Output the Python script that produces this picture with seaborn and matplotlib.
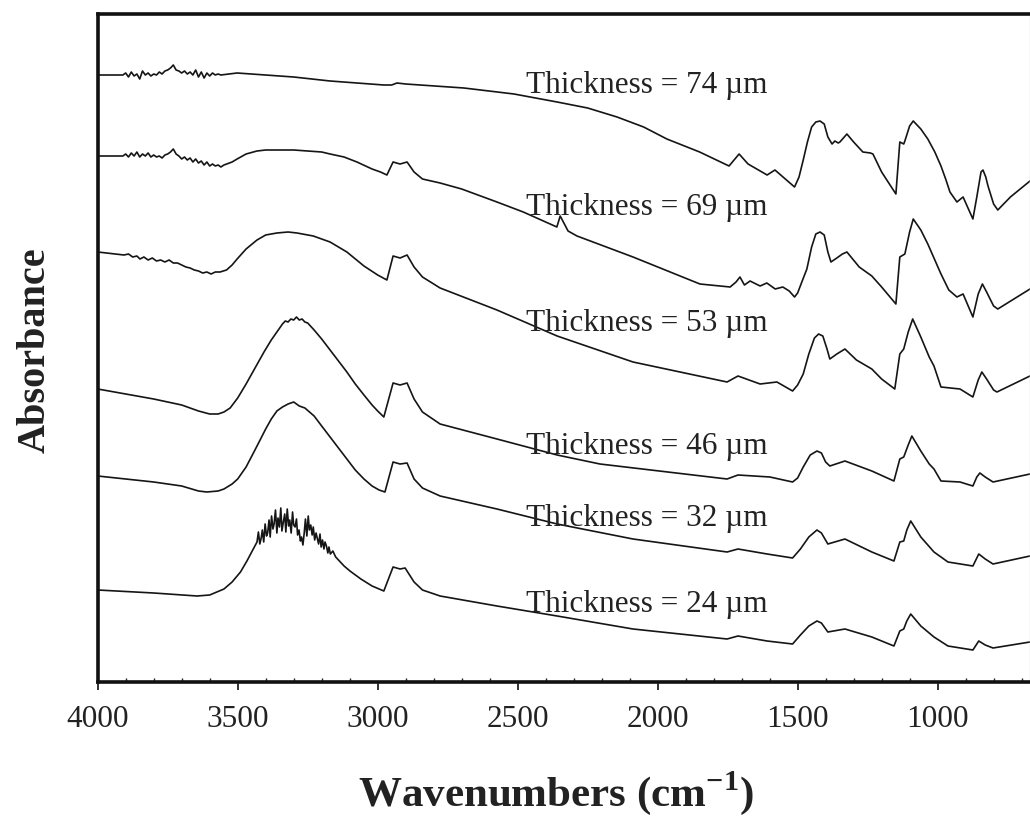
import numpy as np
import pandas as pd
import matplotlib
matplotlib.use("Agg")
import matplotlib.pyplot as plt
import seaborn as sns

# ---- data (wavenumber in cm^-1, absorbance in arbitrary offset units) ----
wn_74 = [4000, 3910, 3900, 3890, 3880, 3870, 3860, 3850, 3840, 3830, 3820, 3810, 3800,
         3790, 3780, 3770, 3760, 3750, 3740, 3730, 3720, 3710, 3700, 3690, 3680, 3670,
         3660, 3650, 3640, 3630, 3620, 3610, 3600, 3590, 3580, 3570, 3560, 3502, 3300,
         3170, 2978, 2950, 2931, 2900, 2692, 2513, 2359, 2250, 2145, 2050, 1967, 1850,
         1745, 1709, 1677, 1609, 1581, 1511, 1495, 1480, 1465, 1450, 1435, 1420, 1405,
         1392, 1377, 1367, 1355, 1349, 1324, 1300, 1267, 1240, 1231, 1200, 1149, 1135,
         1121, 1117, 1100, 1087, 1060, 1035, 1010, 988, 970, 956, 931, 909, 874, 860,
         845, 838, 828, 820, 800, 785, 740, 670]
ab_74 = [6.07, 6.07, 6.09, 6.05, 6.10, 6.06, 6.08, 6.03, 6.11, 6.07, 6.09, 6.06, 6.08,
         6.07, 6.10, 6.08, 6.11, 6.12, 6.14, 6.17, 6.12, 6.11, 6.09, 6.11, 6.08, 6.10,
         6.07, 6.12, 6.05, 6.10, 6.04, 6.09, 6.06, 6.09, 6.07, 6.08, 6.07, 6.09, 6.05,
         6.01, 5.97, 5.97, 5.99, 5.98, 5.94, 5.88, 5.80, 5.74, 5.65, 5.55, 5.43, 5.30,
         5.16, 5.28, 5.18, 5.07, 5.12, 4.95, 5.05, 5.22, 5.40, 5.55, 5.60, 5.61, 5.58,
         5.45, 5.38, 5.41, 5.39, 5.40, 5.48, 5.40, 5.30, 5.29, 5.28, 5.10, 4.88, 5.40,
         5.38, 5.41, 5.56, 5.61, 5.53, 5.43, 5.30, 5.16, 5.02, 4.90, 4.80, 4.85, 4.63,
         4.85, 5.10, 5.12, 5.05, 4.96, 4.78, 4.72, 4.85, 5.01]

wn_69 = [4000, 3910, 3900, 3890, 3880, 3870, 3860, 3850, 3840, 3830, 3820, 3810, 3800,
         3790, 3780, 3770, 3760, 3750, 3740, 3730, 3720, 3710, 3700, 3690, 3680, 3670,
         3660, 3650, 3640, 3630, 3620, 3610, 3600, 3590, 3580, 3570, 3560, 3549, 3520,
         3502, 3470, 3431, 3400, 3360, 3300, 3250, 3200, 3170, 3120, 3074, 3020, 2990,
         2967, 2945, 2920, 2895, 2870, 2840, 2777, 2700, 2574, 2480, 2384, 2360, 2348,
         2320, 2288, 2088, 1849, 1741, 1720, 1706, 1690, 1670, 1634, 1610, 1580, 1553,
         1530, 1511, 1500, 1485, 1467, 1450, 1435, 1420, 1405, 1392, 1381, 1360, 1340,
         1324, 1280, 1235, 1200, 1149, 1135, 1117, 1100, 1087, 1060, 1035, 988, 960,
         931, 909, 874, 855, 840, 825, 800, 785, 670]
ab_69 = [5.26, 5.26, 5.28, 5.25, 5.29, 5.26, 5.30, 5.25, 5.28, 5.26, 5.29, 5.25, 5.27,
         5.25, 5.26, 5.24, 5.27, 5.28, 5.30, 5.33, 5.28, 5.26, 5.23, 5.25, 5.22, 5.24,
         5.20, 5.23, 5.19, 5.21, 5.17, 5.20, 5.16, 5.18, 5.16, 5.17, 5.15, 5.17, 5.20,
         5.23, 5.28, 5.31, 5.32, 5.32, 5.32, 5.31, 5.30, 5.28, 5.25, 5.20, 5.13, 5.10,
         5.07, 5.20, 5.18, 5.20, 5.10, 5.03, 4.99, 4.93, 4.80, 4.70, 4.58, 4.55, 4.66,
         4.51, 4.46, 4.25, 3.98, 3.95, 4.00, 4.05, 3.97, 4.01, 3.96, 3.99, 3.93, 3.95,
         3.91, 3.85, 3.89, 4.00, 4.13, 4.35, 4.48, 4.50, 4.47, 4.30, 4.20, 4.24, 4.28,
         4.30, 4.15, 4.06, 3.95, 3.78, 4.25, 4.28, 4.50, 4.63, 4.52, 4.38, 4.08, 3.92,
         3.85, 3.88, 3.65, 3.88, 3.98, 3.90, 3.76, 3.73, 3.93]

wn_53 = [4000, 3906, 3890, 3875, 3860, 3849, 3835, 3820, 3805, 3790, 3775, 3760, 3745,
         3730, 3715, 3700, 3685, 3670, 3655, 3640, 3625, 3610, 3595, 3580, 3563, 3540,
         3520, 3502, 3470, 3431, 3400, 3360, 3320, 3288, 3230, 3170, 3110, 3049, 3000,
         2967, 2945, 2920, 2895, 2870, 2840, 2777, 2574, 2359, 2088, 1752, 1713, 1634,
         1574, 1518, 1500, 1480, 1460, 1440, 1425, 1410, 1395, 1385, 1360, 1331, 1290,
         1235, 1200, 1153, 1135, 1121, 1105, 1089, 1060, 1030, 1013, 988, 920, 874, 855,
         842, 825, 800, 788, 670]
ab_53 = [4.30, 4.27, 4.28, 4.25, 4.26, 4.23, 4.25, 4.22, 4.24, 4.21, 4.22, 4.20, 4.22,
         4.19, 4.19, 4.17, 4.15, 4.14, 4.12, 4.11, 4.09, 4.10, 4.08, 4.10, 4.10, 4.12,
         4.17, 4.23, 4.33, 4.42, 4.47, 4.49, 4.50, 4.49, 4.46, 4.40, 4.30, 4.16, 4.07,
         4.02, 4.26, 4.24, 4.27, 4.15, 4.05, 3.94, 3.72, 3.46, 3.20, 3.00, 3.06, 2.98,
         3.00, 2.91, 2.97, 3.08, 3.28, 3.44, 3.48, 3.46, 3.33, 3.23, 3.28, 3.33, 3.22,
         3.13, 3.03, 2.93, 3.28, 3.33, 3.50, 3.63, 3.45, 3.25, 3.16, 2.95, 2.93, 2.85,
         3.02, 3.10, 3.03, 2.92, 2.90, 3.06]

wn_46 = [4000, 3800, 3700, 3640, 3600, 3570, 3549, 3527, 3500, 3470, 3440, 3406, 3380,
         3360, 3340, 3330, 3320, 3310, 3300, 3290, 3280, 3270, 3260, 3250, 3227, 3200,
         3170, 3140, 3110, 3080, 3049, 3020, 3000, 2978, 2945, 2920, 2895, 2870, 2840,
         2777, 2574, 2359, 2206, 1752, 1713, 1599, 1518, 1500, 1480, 1455, 1431, 1415,
         1400, 1385, 1331, 1235, 1156, 1135, 1121, 1105, 1092, 1060, 1030, 1013, 988,
         920, 874, 860, 849, 830, 802, 670]
ab_46 = [2.93, 2.83, 2.77, 2.71, 2.68, 2.68, 2.70, 2.74, 2.84, 2.98, 3.13, 3.30, 3.42,
         3.50, 3.58, 3.61, 3.60, 3.63, 3.62, 3.65, 3.62, 3.63, 3.60, 3.59, 3.52, 3.43,
         3.32, 3.21, 3.10, 2.98, 2.87, 2.77, 2.71, 2.65, 2.99, 2.97, 2.99, 2.83, 2.70,
         2.58, 2.43, 2.27, 2.18, 2.03, 2.07, 2.05, 2.00, 2.04, 2.15, 2.27, 2.31, 2.29,
         2.20, 2.16, 2.21, 2.11, 2.01, 2.23, 2.25, 2.37, 2.46, 2.31, 2.18, 2.13, 2.01,
         2.00, 1.96, 2.05, 2.09, 2.05, 2.00, 2.08]

wn_32 = [4000, 3800, 3700, 3640, 3610, 3570, 3549, 3520, 3500, 3470, 3442, 3420, 3400,
         3380, 3360, 3340, 3320, 3300, 3280, 3260, 3227, 3200, 3170, 3140, 3110, 3080,
         3049, 3020, 2995, 2974, 2945, 2920, 2895, 2870, 2840, 2777, 2574, 2359, 2088,
         1752, 1713, 1609, 1518, 1490, 1460, 1431, 1415, 1392, 1331, 1235, 1156, 1135,
         1121, 1110, 1096, 1060, 1013, 963, 874, 860, 853, 830, 802, 670]
ab_32 = [2.06, 2.00, 1.96, 1.91, 1.90, 1.91, 1.93, 1.98, 2.03, 2.15, 2.30, 2.42, 2.53,
         2.63, 2.71, 2.75, 2.78, 2.80, 2.76, 2.74, 2.66, 2.56, 2.45, 2.34, 2.23, 2.12,
         2.03, 1.96, 1.92, 1.90, 2.20, 2.18, 2.19, 2.03, 1.94, 1.86, 1.73, 1.58, 1.43,
         1.30, 1.33, 1.28, 1.24, 1.33, 1.45, 1.52, 1.49, 1.38, 1.43, 1.30, 1.21, 1.40,
         1.41, 1.52, 1.61, 1.45, 1.30, 1.20, 1.16, 1.24, 1.28, 1.23, 1.18, 1.26]

wn_24 = [4000, 3800, 3645, 3600, 3549, 3520, 3490, 3467, 3450, 3431, 3426, 3421, 3416,
         3412, 3407, 3402, 3397, 3393, 3388, 3384, 3379, 3374, 3370, 3365, 3360, 3356,
         3351, 3346, 3342, 3337, 3332, 3328, 3323, 3318, 3314, 3309, 3304, 3300, 3295,
         3290, 3286, 3281, 3276, 3272, 3267, 3262, 3258, 3253, 3248, 3244, 3239, 3234,
         3230, 3225, 3220, 3216, 3211, 3206, 3202, 3197, 3192, 3188, 3183, 3178, 3174,
         3169, 3160, 3150, 3140, 3120, 3099, 3060, 3020, 2978, 2945, 2920, 2902, 2870,
         2840, 2777, 2574, 2359, 2088, 1752, 1713, 1609, 1518, 1490, 1460, 1431, 1415,
         1392, 1331, 1235, 1156, 1135, 1121, 1110, 1096, 1060, 1013, 963, 874, 860, 853,
         830, 802, 670]
ab_24 = [0.92, 0.89, 0.86, 0.87, 0.93, 1.00, 1.10, 1.21, 1.30, 1.40, 1.50, 1.38, 1.44,
         1.52, 1.40, 1.58, 1.46, 1.49, 1.62, 1.45, 1.66, 1.53, 1.58, 1.72, 1.49, 1.64,
         1.55, 1.74, 1.51, 1.60, 1.68, 1.50, 1.73, 1.56, 1.62, 1.49, 1.70, 1.57, 1.55,
         1.63, 1.47, 1.52, 1.41, 1.45, 1.37, 1.50, 1.63, 1.46, 1.66, 1.52, 1.57, 1.47,
         1.55, 1.42, 1.49, 1.44, 1.38, 1.48, 1.35, 1.42, 1.33, 1.40, 1.36, 1.29, 1.35,
         1.28, 1.31, 1.25, 1.22, 1.16, 1.11, 1.03, 0.96, 0.91, 1.15, 1.13, 1.14, 1.00,
         0.92, 0.86, 0.76, 0.66, 0.53, 0.43, 0.46, 0.41, 0.38, 0.47, 0.56, 0.61, 0.59,
         0.50, 0.53, 0.45, 0.36, 0.51, 0.53, 0.61, 0.68, 0.56, 0.45, 0.36, 0.32, 0.38,
         0.41, 0.37, 0.34, 0.40]

thickness = ["74", "69", "53", "46", "32", "24"]
label_wn = [2470, 2470, 2470, 2470, 2470, 2470]
label_y = [5.90, 4.68, 3.52, 2.29, 1.57, 0.71]
xticks = [4000, 3500, 3000, 2500, 2000, 1500, 1000]

series = {"74": (wn_74, ab_74), "69": (wn_69, ab_69), "53": (wn_53, ab_53),
          "46": (wn_46, ab_46), "32": (wn_32, ab_32), "24": (wn_24, ab_24)}
frames = []
for t, (w, a) in series.items():
    frames.append(pd.DataFrame({"wn": w, "abs": a, "thickness": t}))
df = pd.concat(frames, ignore_index=True)

# ---- styling ----
sns.set_theme(style="white")
plt.rcParams["font.family"] = ["Liberation Serif", "DejaVu Serif"]
plt.rcParams["mathtext.fontset"] = "custom"
plt.rcParams["mathtext.rm"] = "Liberation Serif"
plt.rcParams["mathtext.bf"] = "Liberation Serif:bold"

fig = plt.figure(figsize=(10.30, 8.28), dpi=100)
ax = fig.add_axes([97.7 / 1030, 1 - 683 / 828, 1 - 97.7 / 1030, (683 - 15) / 828])

sns.lineplot(data=df, x="wn", y="abs", units="thickness", estimator=None,
             sort=False, color="#151515", linewidth=1.2, ax=ax, legend=False)
for ln in ax.get_lines():
    ln.set_solid_joinstyle("round")

ax.set_xlim(4000, 670)
ax.set_ylim(0, 6.68)
ax.set_xticks(xticks)
ax.set_xticklabels([str(v) for v in xticks])
ax.set_xticks(np.arange(4000, 660, -100), minor=True)
ax.set_yticks([])
ax.tick_params(axis="x", which="major", direction="out", length=6, width=1.3,
               color="#222222", labelsize=22.5, pad=10, bottom=True,
               labelcolor="#222222")
ax.tick_params(axis="x", which="minor", direction="in", length=3, width=1.0,
               color="#222222", bottom=True)

for side in ["left", "bottom", "top"]:
    ax.spines[side].set_visible(True)
    ax.spines[side].set_color("#111111")
    ax.spines[side].set_linewidth(2.6)
ax.spines["right"].set_visible(True)
ax.spines["right"].set_color("#dddddd")
ax.spines["right"].set_linewidth(1.0)

for t, xw, yv in zip(thickness, label_wn, label_y):
    ax.text(xw, yv, f"Thickness = {t} \u00b5m", fontsize=22.5, color="#222222",
            ha="left", va="baseline")

ax.set_xlabel(r"Wavenumbers (cm$^{\mathbf{-1}}$)", fontsize=31, fontweight="bold",
              color="#222222", va="center")
ax.xaxis.set_label_coords((556 - 97.7) / 932.3, (683 - 793) / 668)
ax.set_ylabel("Absorbance", fontsize=29, fontweight="bold", color="#222222",
              va="center")
ax.yaxis.set_label_coords((35 - 97.7) / 932.3, (683 - 350) / 668)

fig.savefig("out.png", dpi=100)
